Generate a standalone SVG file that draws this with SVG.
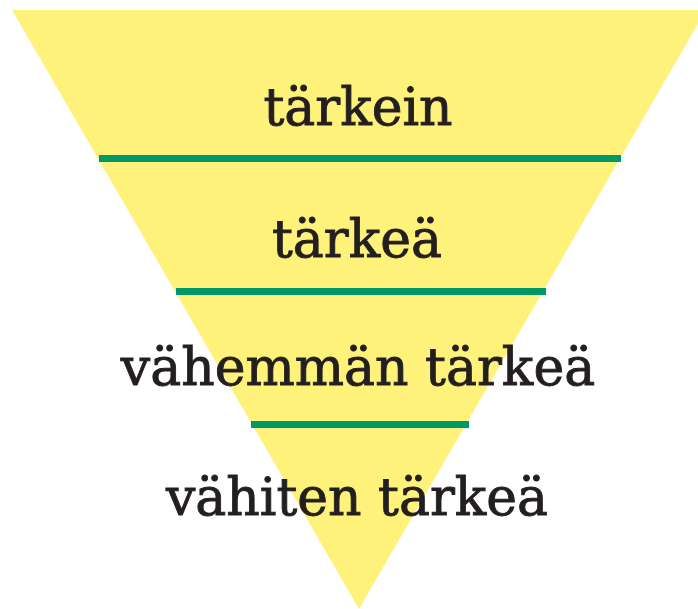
<svg xmlns="http://www.w3.org/2000/svg" width="698" height="609" viewBox="0 0 698 609">
<style>
.lbl{font-family:"DejaVu Serif","Liberation Serif",serif;font-size:52px;fill:#231f20;stroke:#231f20;stroke-width:0.9;text-anchor:middle}
.div{stroke:#009866;stroke-width:7;fill:none}
</style>
<rect width="698" height="609" fill="#ffffff"/>
<g id="pyramid">
<polygon points="12,10 706,10 359,609" fill="#fff27a"/>
</g>
<g id="connectors">
<line class="div" x1="99" y1="158.5" x2="621" y2="158.5"/>
<line class="div" x1="176" y1="291.5" x2="546" y2="291.5"/>
<line class="div" x1="251" y1="424.5" x2="469" y2="424.5"/>
</g>
<g id="n1"><text class="lbl" x="358" y="125">tärkein</text></g>
<g id="n2"><text class="lbl" x="357" y="257">tärkeä</text></g>
<g id="n3"><text class="lbl" x="358" y="385">vähemmän tärkeä</text></g>
<g id="n4"><text class="lbl" x="357" y="515">vähiten tärkeä</text></g>
</svg>
